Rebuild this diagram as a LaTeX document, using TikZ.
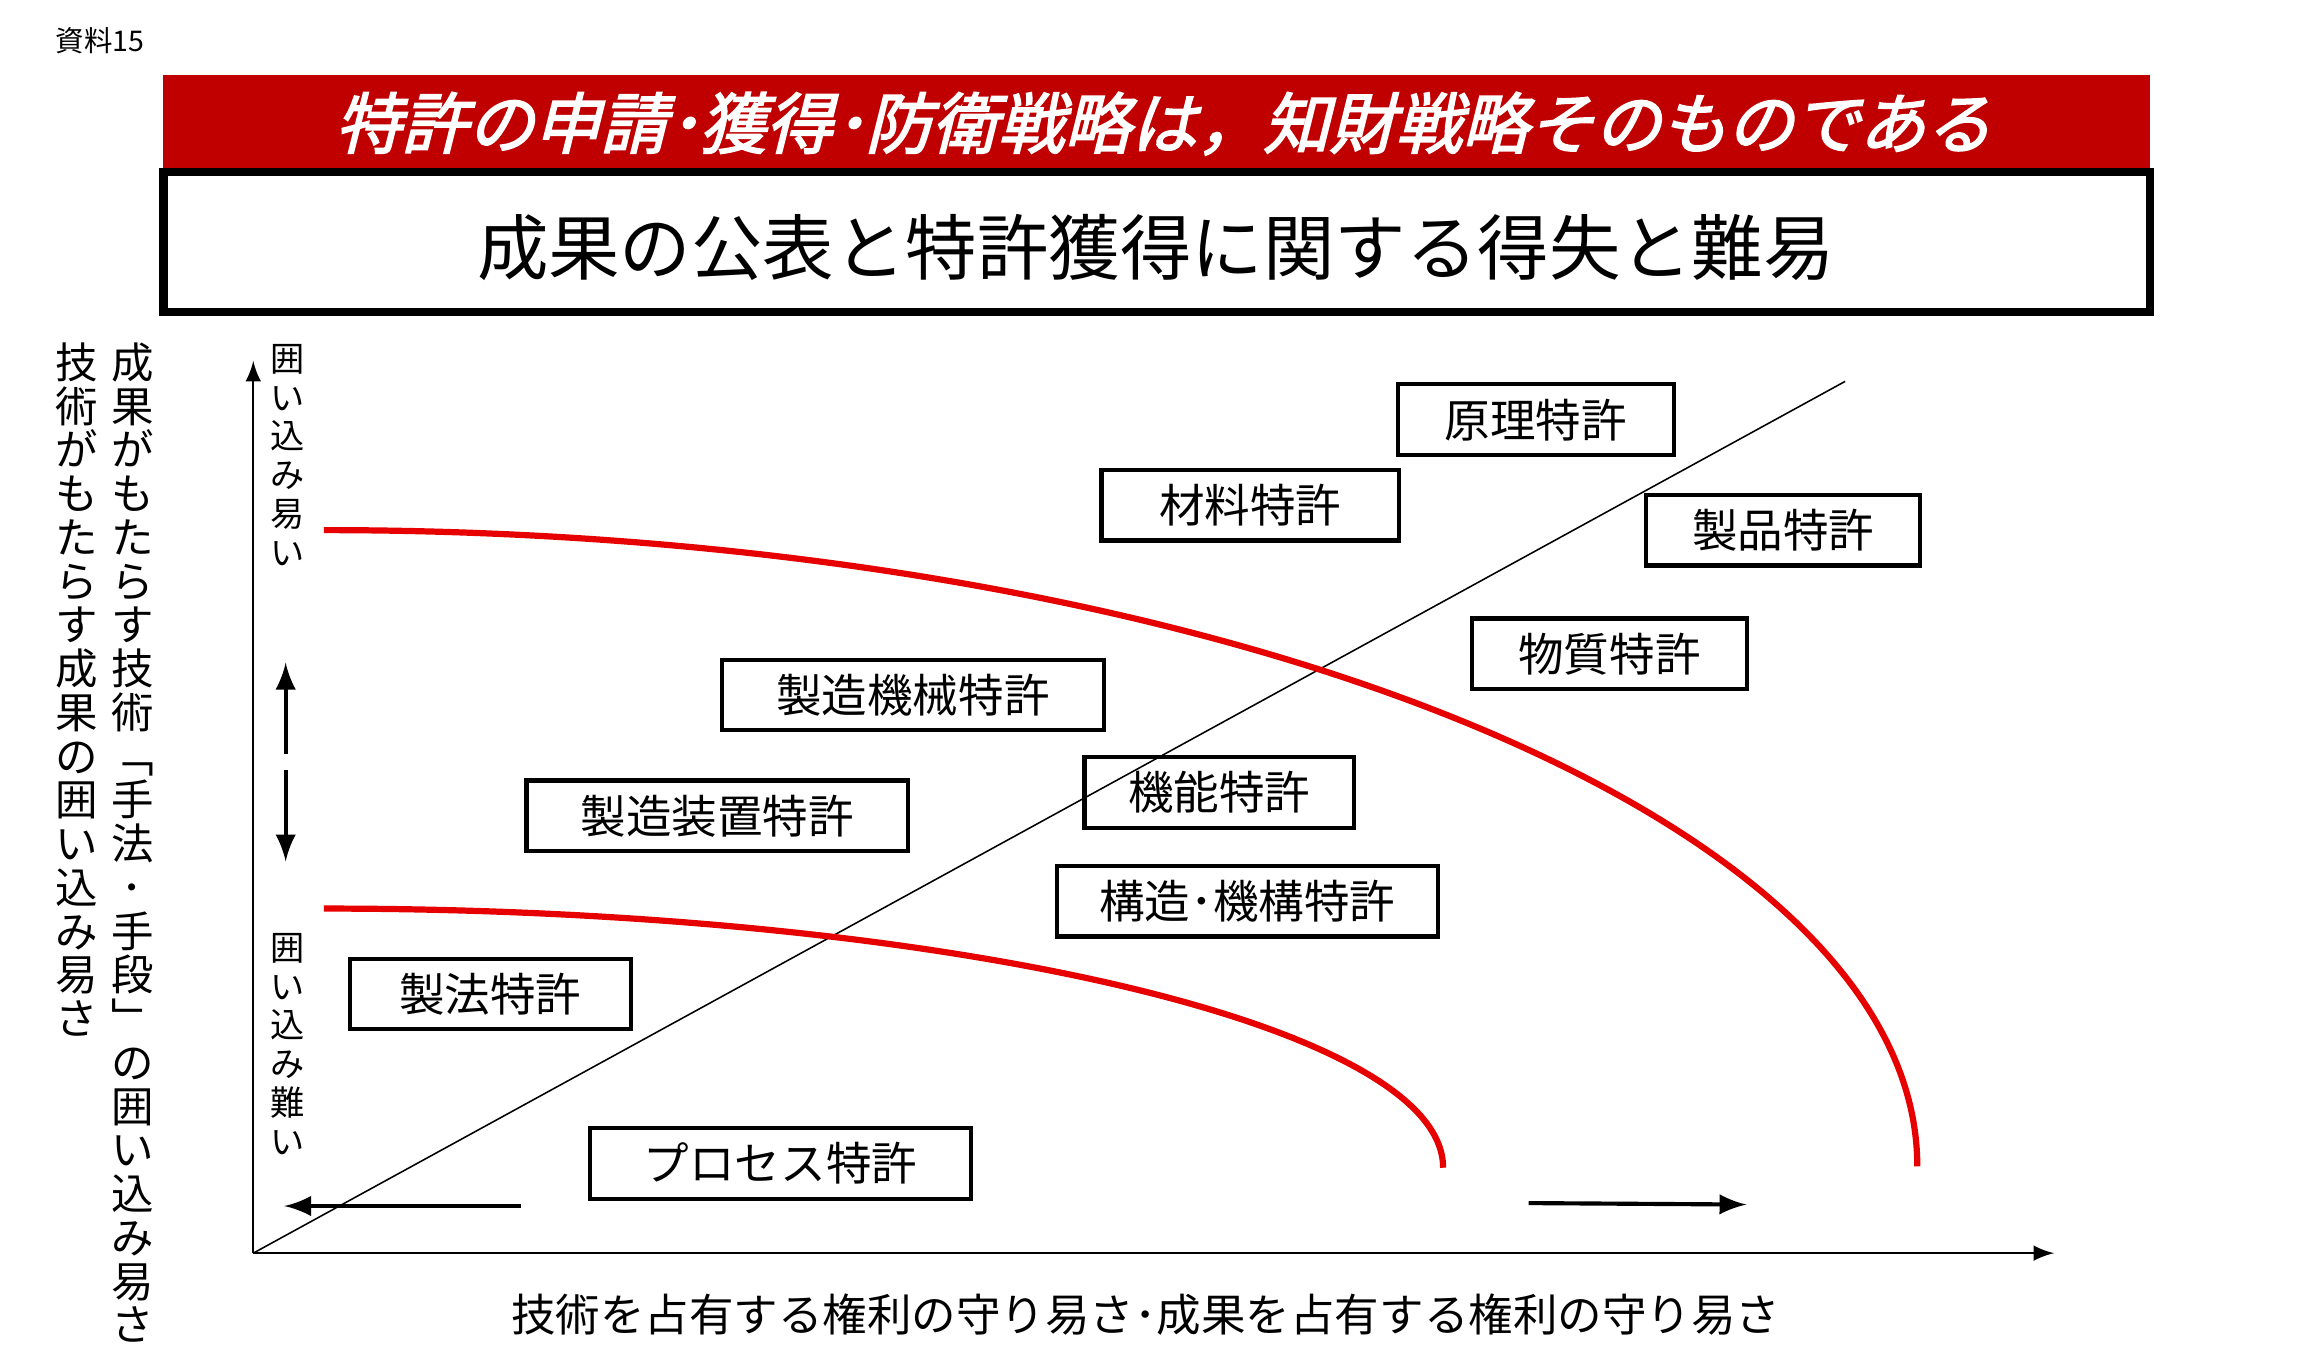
\documentclass[tikz,border=0pt]{standalone}
\usepackage{fontspec}
\setmainfont{Noto Sans CJK JP}
\newfontfamily\bannerfont[FakeSlant=0.25,FakeBold=2.5]{Noto Sans CJK JP}
\definecolor{banner}{RGB}{192,0,0}
\definecolor{curve}{RGB}{230,0,0}
\tikzset{
  patent/.style={draw, thick, font=\fontsize{8.8}{9}\selectfont, inner sep=0, minimum height=0.48cm},
  vlab/.style={align=center, inner sep=0, anchor=north},
  vsmall/.style={vlab, font=\fontsize{6.6}{7.5}\selectfont},
  vbig/.style={vlab, font=\fontsize{8.2}{8.45}\selectfont},
}
\begin{document}
\begin{tikzpicture}[x=0.01cm, y=-0.01cm, >=latex]
	\useasboundingbox (0,0) rectangle (1568,931);
	
	% Header
	\node (ref) [font=\fontsize{5.5}{6}\selectfont] at (68,28) {資料15};
	\fill [banner] (111,51) rectangle (1460,115);
	\node (banner) [text=white, font=\fontsize{12.8}{13}\bannerfont] at (790,84)
	      {特許の申請･獲得･防衛戦略は，知財戦略そのものである};
	\draw [line width=1.6pt] (111,117) rectangle (1460,212);
	\node (title) [font=\fontsize{13.8}{14}\selectfont] at (785,168)
	      {成果の公表と特許獲得に関する得失と難易};
	
	% Axes
	\coordinate (origin) at (172,851);
	\coordinate (xend) at (1395,851);
	\coordinate (yend) at (172,245);
	\draw [->] (origin) -- (xend);
	\draw [->] (origin) -- (yend);
	\coordinate (diag) at (1253,259);
	\draw [line width=0.3pt] (origin) -- (diag);
	
	% Curves
	\draw [curve, line width=1.2pt] (220,360) arc [start angle=90, end angle=0, x radius=1082, y radius=-432];
	\draw [curve, line width=1.2pt] (220,617) arc [start angle=90, end angle=0, x radius=760, y radius=-176];
	
	% Patents
	\foreach \name/\x/\y/\w/\lab in {
		genri/1043/285/187/原理特許,
		zairyo/849/343/202/材料特許,
		seihin/1211/360/186/製品特許,
		busshitsu/1093/444/187/物質特許,
		kikai/620/472/259/製造機械特許,
		kinou/828/538/183/機能特許,
		souchi/487/554/259/製造装置特許,
		kouzou/847/612/259/構造･機構特許,
		seihou/333/675/191/製法特許,
		process/530/790/259/プロセス特許}{
		\node (\name) [patent, minimum width=\w*0.01cm] at (\x,\y) {\lab};
	}
	
	% Labels along the y axis
	\node (easy) [vsmall] at (195,233) {囲\\い\\込\\み\\易\\い};
	\node (hard) [vsmall] at (195,633) {囲\\い\\込\\み\\難\\い};
	\coordinate (up0) at (194,512);
	\coordinate (up1) at (194,450);
	\coordinate (dn0) at (194,523);
	\coordinate (dn1) at (194,585);
	\draw [thick, ->] (up0) -- (up1);
	\draw [thick, ->] (dn0) -- (dn1);
	
	% Arrows along the x axis
	\coordinate (l0) at (354,819);
	\coordinate (l1) at (193,819);
	\coordinate (r0) at (1038,817);
	\coordinate (r1) at (1186,818);
	\draw [thick, ->] (l0) -- (l1);
	\draw [thick, ->] (r0) -- (r1);
	
	% Axis titles
	\node (xlab) [font=\fontsize{8.6}{9}\selectfont] at (778,893)
	      {技術を占有する権利の守り易さ･成果を占有する権利の守り易さ};
	\node (ylab1) [vbig] at (90,232)
	      {成\\果\\が\\も\\た\\ら\\す\\技\\術\\﹁\\手\\法\\･\\手\\段\\﹂\\の\\囲\\い\\込\\み\\易\\さ};
	\node (ylab2) [vbig] at (52,232)
	      {技\\術\\が\\も\\た\\ら\\す\\成\\果\\の\\囲\\い\\込\\み\\易\\さ};
\end{tikzpicture}
\end{document}
